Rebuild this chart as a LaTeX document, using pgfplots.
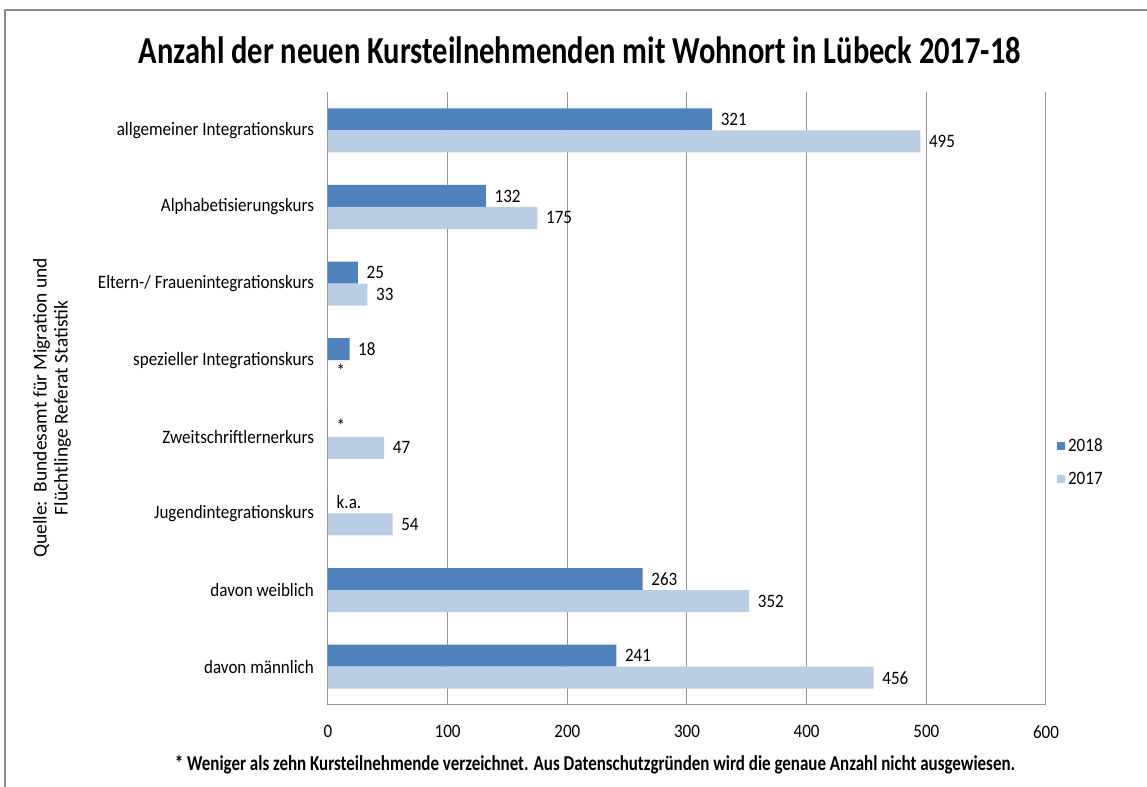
\documentclass[border=0pt]{standalone}
\usepackage{fontspec}
\setmainfont{Carlito}[FakeStretch=0.9]
\newfontfamily\titlefont{Carlito}[FakeStretch=0.8]
\newfontfamily\plainfont{Carlito}
\usepackage{pgfplots}
\pgfplotsset{compat=1.18}
\definecolor{c2018}{HTML}{4F81BD}
\definecolor{c2017}{HTML}{B9CDE5}
\definecolor{gridgray}{HTML}{969696}
\definecolor{framegray}{HTML}{8C8C8C}
\newcommand{\lblfont}{\fontsize{14.2}{16}\selectfont}
\begin{document}
\begin{tikzpicture}
\useasboundingbox (0,0) rectangle (860.25pt,590.25pt);
\draw[framegray, line width=1.2pt] (3.75pt,-2pt) -- (3.75pt,582.75pt) -- (862pt,582.75pt);
\begin{axis}[
  at={(246pt,61.5pt)}, anchor=south west,
  scale only axis, width=538.5pt, height=459.75pt,
  xbar, bar width=0.287,
  xmin=0, xmax=600, ymin=-0.5, ymax=7.5,
  xtick={0,100,...,600},
  ytick={0,...,7},
  yticklabels={davon männlich, davon weiblich, Jugendintegrationskurs, Zweitschriftlernerkurs, spezieller Integrationskurs, Eltern-/ Frauenintegrationskurs, Alphabetisierungskurs, allgemeiner Integrationskurs},
  axis x line*=bottom, axis y line*=left,
  axis line style={gridgray, line width=0.75pt, -},
  xmajorgrids,
  major grid style={gridgray, line width=0.75pt},
  major tick length=0pt,
  tick style={draw=none},
  ticklabel style={font=\lblfont},
  /pgf/number format/assume math mode=true,
  xticklabel style={yshift=-12pt},
  yticklabel style={xshift=-7pt},
  nodes near coords, point meta=explicit symbolic,
  every node near coord/.append style={font=\lblfont, text=black, anchor=west, xshift=3pt},
  legend style={at={(1.01,0.396)}, anchor=west, draw=none, fill=none, font=\lblfont, row sep=10pt},
  legend cell align=left,
  legend image code/.code={\fill[#1] (0pt,-3pt) rectangle (6pt,3pt);},
  clip=false,
]
\addplot[fill=c2018, draw=none, bar shift=0.1436] coordinates {(321,7)[321] (132,6)[132] (25,5)[25] (18,4)[18] (0,3)[*] (0,2)[k.a.] (263,1)[263] (241,0)[241]};
\addplot[fill=c2017, draw=none, bar shift=-0.1436] coordinates {(495,7)[495] (175,6)[175] (33,5)[33] (0,4)[*] (47,3)[47] (54,2)[54] (352,1)[352] (456,0)[456]};
\legend{2018,2017}
\end{axis}
\node[font=\titlefont\bfseries\fontsize{28.6}{32}\selectfont] at (435pt,552.75pt) {Anzahl der neuen Kursteilnehmenden mit Wohnort in Lübeck 2017-18};
\node[font=\titlefont\bfseries\fontsize{15.9}{18}\selectfont] at (446.25pt,16.5pt) {* Weniger als zehn Kursteilnehmende verzeichnet. Aus Datenschutzgründen wird die genaue Anzahl nicht ausgewiesen.};
\node[font=\plainfont\fontsize{14.6}{15.75}\selectfont, rotate=90, align=center] at (39pt,284.25pt) {Quelle:\ \ Bundesamt für Migration und\\Flüchtlinge Referat Statistik};
\end{tikzpicture}
\end{document}
